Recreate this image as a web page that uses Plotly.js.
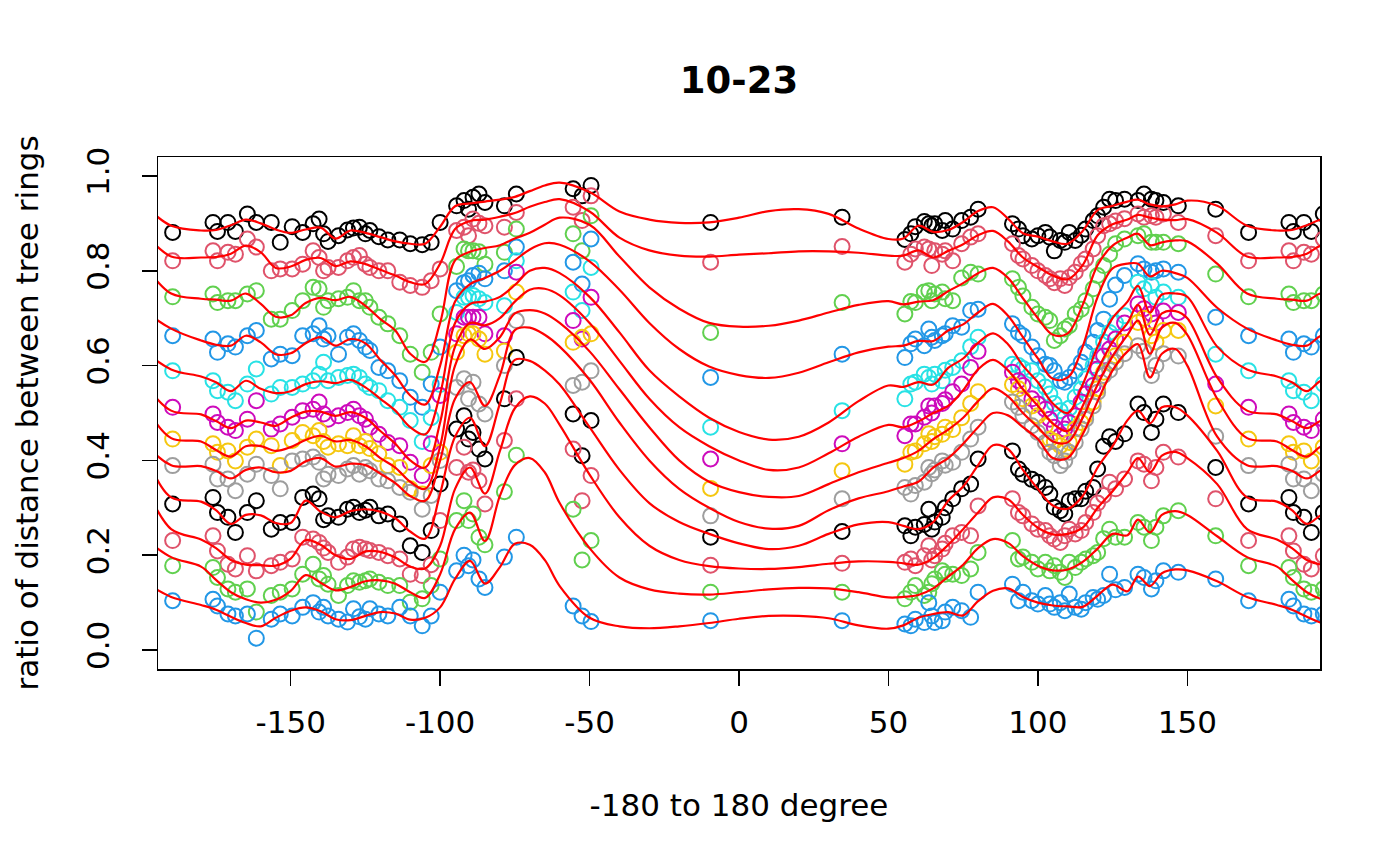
<!DOCTYPE html>
<html>
<head>
<meta charset="utf-8">
<script src="https://cdn.plot.ly/plotly-3.0.1.min.js"></script>
<style>html,body{margin:0;padding:0;background:#fff;}#chart{width:1400px;height:866px;}</style>
</head>
<body>
<div id="chart"></div>
<script>
// measurement angles (degrees), shared by all rings
const angles = [-176,-174.5,-171,-168.5,-164.5,-161.5,-156.5,-153.5,-149.5,-146,
 -142.5,-140.5,-139,-137.5,-134,-131,-129,-127,-125,-123.5,
 -120.5,-117.5,-113.5,-110,-106,-103,-100,-94.5,-92,-90.5,
 -89,-87,-85,-78.5,-74.5,-55.5,-52.5,-49.5,-9.5,34.5,
 55.5,57.5,59,62,63.5,64.5,65.5,68,69,71.5,
 74.5,77.5,80,91.5,93.5,95,98,100,102.5,104,
 105.5,107.5,109,110.5,112.5,114.5,116,118.5,120,122,
 124,126,129,133.5,135.5,138,139.5,142,147,159.5,170.5];

// observed ratios per ring
const ring1 = [0.902,0.883,0.902,0.883,0.920,0.902,0.902,0.860,0.893,0.881,
 0.899,0.909,0.878,0.862,0.874,0.886,0.890,0.892,0.878,0.885,
 0.872,0.865,0.865,0.857,0.855,0.860,0.902,0.937,0.948,0.930,
 0.955,0.962,0.944,0.937,0.962,0.973,0.958,0.980,0.902,0.913,
 0.866,0.878,0.893,0.904,0.899,0.895,0.899,0.885,0.906,0.888,
 0.906,0.913,0.930,0.899,0.888,0.874,0.867,0.874,0.881,0.871,
 0.842,0.864,0.860,0.881,0.864,0.875,0.888,0.906,0.916,0.934,
 0.951,0.948,0.951,0.948,0.962,0.951,0.948,0.944,0.937,0.930,0.881];
const ring2 = [0.842,0.821,0.839,0.835,0.867,0.850,0.800,0.804,0.804,0.814,
 0.842,0.828,0.800,0.807,0.807,0.821,0.828,0.832,0.814,0.807,
 0.800,0.800,0.776,0.769,0.765,0.779,0.804,0.885,0.892,0.874,
 0.909,0.900,0.895,0.892,0.923,0.934,0.906,0.958,0.818,0.851,
 0.818,0.835,0.846,0.850,0.846,0.811,0.842,0.835,0.842,0.821,
 0.857,0.871,0.878,0.857,0.832,0.825,0.811,0.800,0.790,0.783,
 0.775,0.783,0.769,0.786,0.797,0.815,0.825,0.846,0.874,0.895,
 0.899,0.905,0.910,0.920,0.913,0.916,0.913,0.920,0.902,0.874,0.821];
const ring3 = [0.751,0.733,0.737,0.737,0.751,0.758,0.698,0.698,0.716,0.737,
 0.765,0.762,0.723,0.737,0.741,0.744,0.758,0.737,0.737,0.723,
 0.702,0.688,0.663,0.624,0.586,0.628,0.709,0.809,0.846,0.842,
 0.842,0.840,0.814,0.839,0.888,0.878,0.842,0.916,0.670,0.733,
 0.709,0.735,0.733,0.755,0.758,0.737,0.751,0.755,0.741,0.737,
 0.785,0.797,0.793,0.783,0.765,0.747,0.723,0.709,0.702,0.695,
 0.653,0.663,0.677,0.684,0.709,0.719,0.737,0.762,0.790,0.811,
 0.835,0.857,0.867,0.874,0.878,0.860,0.860,0.860,0.857,0.793,0.745];
const ring4 = [0.656,0.628,0.646,0.639,0.663,0.674,0.614,0.624,0.621,0.663,
 0.667,0.684,0.656,0.663,0.624,0.660,0.667,0.653,0.639,0.632,
 0.596,0.589,0.568,0.533,0.512,0.561,0.639,0.758,0.775,0.779,
 0.790,0.795,0.783,0.800,0.850,0.818,0.772,0.867,0.575,0.624,
 0.617,0.646,0.656,0.642,0.677,0.660,0.653,0.663,0.667,0.684,
 0.681,0.716,0.719,0.688,0.670,0.663,0.639,0.621,0.603,0.600,
 0.589,0.568,0.565,0.575,0.589,0.607,0.628,0.649,0.674,0.698,
 0.740,0.770,0.790,0.815,0.804,0.797,0.800,0.804,0.797,0.702,0.663];
const ring5 = [0.568,0.547,0.544,0.526,0.561,0.593,0.540,0.554,0.554,0.561,
 0.568,0.582,0.607,0.568,0.575,0.579,0.582,0.575,0.561,0.554,
 0.547,0.526,0.512,0.484,0.440,0.490,0.560,0.712,0.744,0.744,
 0.748,0.741,0.733,0.726,0.821,0.755,0.716,0.807,0.470,0.505,
 0.530,0.561,0.565,0.582,0.575,0.561,0.582,0.568,0.590,0.596,
 0.610,0.640,0.660,0.603,0.600,0.594,0.589,0.568,0.555,0.540,
 0.520,0.505,0.490,0.510,0.533,0.550,0.572,0.600,0.621,0.650,
 0.670,0.690,0.705,0.776,0.762,0.769,0.744,0.755,0.744,0.624,0.589];
const ring6 = [0.498,0.480,0.470,0.463,0.487,0.526,0.466,0.477,0.491,0.505,
 0.508,0.523,0.498,0.487,0.494,0.501,0.508,0.494,0.487,0.470,
 0.455,0.438,0.431,0.396,0.368,0.435,0.537,0.667,0.702,0.702,
 0.702,0.702,0.667,0.663,0.797,0.695,0.656,0.744,0.403,0.435,
 0.452,0.477,0.477,0.491,0.515,0.500,0.515,0.520,0.528,0.545,
 0.561,0.596,0.630,0.586,0.568,0.558,0.530,0.519,0.508,0.487,
 0.470,0.452,0.466,0.480,0.494,0.523,0.540,0.558,0.593,0.620,
 0.635,0.656,0.690,0.730,0.720,0.709,0.690,0.715,0.712,0.561,0.512];
const ring7 = [0.435,0.417,0.420,0.399,0.428,0.445,0.431,0.389,0.442,0.459,
 0.452,0.463,0.440,0.428,0.435,0.431,0.452,0.431,0.440,0.425,
 0.414,0.389,0.385,0.340,0.329,0.389,0.417,0.628,0.663,0.667,
 0.667,0.656,0.624,0.631,0.755,0.649,0.660,0.667,0.341,0.378,
 0.392,0.417,0.420,0.435,0.456,0.440,0.450,0.455,0.470,0.465,
 0.490,0.520,0.545,0.560,0.551,0.530,0.515,0.494,0.473,0.445,
 0.440,0.431,0.424,0.438,0.466,0.480,0.494,0.523,0.551,0.586,
 0.605,0.621,0.649,0.691,0.700,0.663,0.650,0.674,0.674,0.515,0.445];
const ring8 = [0.392,0.361,0.361,0.336,0.371,0.392,0.368,0.340,0.399,0.403,
 0.407,0.396,0.361,0.371,0.368,0.382,0.389,0.371,0.385,0.378,
 0.361,0.357,0.343,0.333,0.297,0.326,0.400,0.554,0.572,0.530,
 0.565,0.519,0.498,0.600,0.695,0.558,0.565,0.589,0.283,0.319,
 0.343,0.329,0.347,0.354,0.385,0.372,0.380,0.399,0.390,0.396,
 0.417,0.445,0.470,0.523,0.512,0.494,0.473,0.459,0.438,0.417,
 0.410,0.389,0.399,0.417,0.438,0.466,0.487,0.515,0.544,0.579,
 0.590,0.607,0.625,0.642,0.630,0.579,0.600,0.625,0.620,0.451,0.389];
const ring9 = [0.322,0.290,0.280,0.248,0.290,0.315,0.255,0.269,0.269,0.322,
 0.329,0.319,0.275,0.283,0.280,0.297,0.301,0.290,0.295,0.301,
 0.283,0.287,0.266,0.220,0.206,0.252,0.350,0.466,0.494,0.445,
 0.459,0.424,0.403,0.530,0.617,0.498,0.410,0.484,0.238,0.250,
 0.262,0.241,0.259,0.265,0.297,0.255,0.270,0.280,0.300,0.319,
 0.340,0.350,0.403,0.420,0.382,0.371,0.360,0.354,0.343,0.329,
 0.301,0.294,0.287,0.315,0.319,0.319,0.335,0.343,0.382,0.430,
 0.450,0.440,0.456,0.519,0.501,0.459,0.487,0.519,0.501,0.385,0.308];
const ring10 = [0.241,0.209,0.181,0.171,0.199,0.167,0.178,0.185,0.192,0.238,
 0.234,0.227,0.215,0.206,0.185,0.196,0.213,0.217,0.213,0.210,
 0.206,0.199,0.192,0.160,0.157,0.180,0.273,0.385,0.428,0.375,
 0.380,0.357,0.308,0.442,0.530,0.424,0.315,0.368,0.179,0.183,
 0.185,0.192,0.178,0.199,0.220,0.190,0.199,0.213,0.225,0.241,
 0.248,0.241,0.304,0.319,0.290,0.283,0.266,0.255,0.252,0.241,
 0.234,0.227,0.241,0.255,0.245,0.252,0.269,0.290,0.310,0.326,
 0.354,0.340,0.361,0.399,0.392,0.357,0.385,0.417,0.407,0.319,0.231];
const ring11 = [0.174,0.153,0.129,0.122,0.129,0.080,0.115,0.122,0.129,0.160,
 0.181,0.150,0.157,0.139,0.115,0.136,0.146,0.143,0.146,0.150,
 0.143,0.136,0.136,0.101,0.108,0.136,0.192,0.273,0.315,0.273,
 0.287,0.238,0.222,0.334,0.411,0.297,0.190,0.231,0.122,0.122,
 0.108,0.122,0.136,0.115,0.122,0.140,0.150,0.167,0.160,0.160,
 0.157,0.171,0.206,0.231,0.192,0.196,0.185,0.171,0.185,0.167,
 0.178,0.164,0.153,0.185,0.174,0.185,0.192,0.199,0.206,0.235,
 0.255,0.238,0.238,0.269,0.259,0.231,0.259,0.283,0.294,0.241,0.178];
const ring12 = [0.107,0.093,0.076,0.072,0.076,0.025,0.065,0.076,0.072,0.090,
 0.100,0.080,0.090,0.072,0.065,0.059,0.087,0.070,0.065,0.087,
 0.076,0.072,0.090,0.072,0.051,0.072,0.122,0.167,0.200,0.178,
 0.190,0.150,0.132,0.196,0.238,0.093,0.072,0.060,0.062,0.062,
 0.055,0.051,0.065,0.058,0.100,0.072,0.058,0.062,0.080,0.090,
 0.083,0.069,0.122,0.139,0.104,0.122,0.104,0.097,0.115,0.097,
 0.090,0.100,0.083,0.118,0.090,0.086,0.100,0.111,0.107,0.115,
 0.160,0.127,0.132,0.160,0.153,0.129,0.146,0.167,0.164,0.150,0.104];

// fitted periodic curves, sampled at these angles
const fitAngles = [-180,-175,-170,-165,-160,-155,-150,-145,-140,-135,
 -130,-125,-120,-115,-110,-105,-100,-95,-90,-85,
 -80,-75,-70,-65,-60,-50,-40,-30,-20,-10,
 0,10,20,30,40,50,55,60,65,70,
 75,80,85,90,95,100,105,110,115,120,
 125,130,133.5,137.5,141.5,146,150,160,170];
const fit1 = [0.885,0.886,0.896,0.908,0.900,0.887,0.880,0.887,0.891,0.868,
 0.885,0.880,0.871,0.862,0.857,0.857,0.893,0.936,0.942,0.946,
 0.950,0.956,0.968,0.980,0.986,0.966,0.925,0.908,0.901,0.902,
 0.912,0.926,0.930,0.920,0.889,0.867,0.868,0.895,0.882,0.886,
 0.903,0.926,0.934,0.910,0.879,0.872,0.862,0.857,0.884,0.928,
 0.937,0.946,0.950,0.940,0.936,0.940,0.948,0.937,0.895];
const fit2 = [0.828,0.829,0.836,0.853,0.839,0.806,0.809,0.823,0.827,0.810,
 0.820,0.814,0.802,0.790,0.776,0.772,0.815,0.888,0.905,0.908,
 0.914,0.922,0.935,0.945,0.951,0.925,0.870,0.843,0.832,0.830,
 0.834,0.837,0.841,0.841,0.838,0.832,0.832,0.843,0.828,0.842,
 0.856,0.875,0.884,0.862,0.828,0.808,0.790,0.782,0.812,0.875,
 0.898,0.908,0.918,0.912,0.908,0.907,0.909,0.880,0.830];
const fit3 = [0.741,0.739,0.737,0.752,0.730,0.703,0.706,0.732,0.743,0.738,
 0.745,0.726,0.698,0.674,0.625,0.608,0.690,0.822,0.840,0.848,
 0.854,0.868,0.880,0.897,0.912,0.897,0.830,0.765,0.720,0.690,
 0.682,0.684,0.695,0.712,0.728,0.736,0.729,0.735,0.738,0.757,
 0.774,0.795,0.806,0.785,0.742,0.700,0.665,0.668,0.728,0.812,
 0.853,0.870,0.878,0.854,0.860,0.864,0.862,0.815,0.752];
const fit4 = [0.653,0.644,0.642,0.663,0.649,0.624,0.626,0.647,0.660,0.642,
 0.656,0.647,0.612,0.579,0.537,0.518,0.600,0.735,0.772,0.785,
 0.800,0.822,0.845,0.858,0.855,0.820,0.760,0.690,0.635,0.598,
 0.580,0.574,0.585,0.607,0.628,0.640,0.642,0.652,0.652,0.674,
 0.687,0.712,0.730,0.705,0.660,0.615,0.572,0.575,0.640,0.745,
 0.805,0.815,0.815,0.788,0.800,0.795,0.785,0.722,0.678];
const fit5 = [0.577,0.565,0.546,0.568,0.551,0.542,0.546,0.561,0.567,0.563,
 0.570,0.554,0.530,0.505,0.470,0.455,0.540,0.690,0.730,0.735,
 0.745,0.770,0.800,0.806,0.795,0.745,0.670,0.590,0.535,0.490,
 0.460,0.444,0.450,0.480,0.525,0.558,0.555,0.565,0.560,0.595,
 0.615,0.648,0.668,0.645,0.600,0.565,0.520,0.500,0.560,0.640,
 0.700,0.735,0.768,0.712,0.750,0.752,0.745,0.640,0.592];
const fit6 = [0.497,0.483,0.468,0.484,0.480,0.473,0.490,0.503,0.503,0.494,
 0.502,0.490,0.462,0.435,0.400,0.385,0.480,0.640,0.690,0.685,
 0.700,0.735,0.760,0.762,0.748,0.690,0.610,0.530,0.470,0.430,
 0.400,0.380,0.385,0.415,0.450,0.475,0.470,0.482,0.500,0.515,
 0.548,0.592,0.612,0.590,0.550,0.515,0.478,0.462,0.515,0.590,
 0.650,0.690,0.728,0.665,0.710,0.715,0.700,0.575,0.505];
const fit7 = [0.440,0.422,0.408,0.430,0.430,0.420,0.428,0.443,0.452,0.440,
 0.443,0.430,0.405,0.385,0.355,0.340,0.430,0.600,0.655,0.635,
 0.660,0.710,0.717,0.710,0.690,0.630,0.550,0.470,0.400,0.355,
 0.333,0.323,0.325,0.350,0.375,0.395,0.405,0.420,0.445,0.465,
 0.490,0.525,0.552,0.535,0.500,0.470,0.440,0.438,0.490,0.560,
 0.620,0.665,0.695,0.625,0.680,0.690,0.665,0.530,0.447];
const fit8 = [0.388,0.378,0.362,0.380,0.385,0.375,0.378,0.398,0.405,0.387,
 0.393,0.390,0.372,0.352,0.325,0.315,0.400,0.530,0.565,0.515,
 0.580,0.675,0.680,0.665,0.640,0.570,0.480,0.400,0.340,0.300,
 0.270,0.256,0.262,0.295,0.320,0.335,0.345,0.355,0.385,0.405,
 0.435,0.470,0.500,0.495,0.470,0.445,0.405,0.405,0.455,0.525,
 0.590,0.630,0.645,0.575,0.625,0.635,0.600,0.450,0.390];
const fit9 = [0.313,0.295,0.266,0.285,0.284,0.268,0.268,0.315,0.292,0.280,
 0.293,0.297,0.292,0.278,0.250,0.235,0.330,0.450,0.490,0.430,
 0.520,0.612,0.610,0.590,0.560,0.470,0.380,0.310,0.270,0.245,
 0.225,0.213,0.220,0.245,0.265,0.270,0.262,0.255,0.270,0.315,
 0.345,0.390,0.432,0.424,0.380,0.340,0.305,0.298,0.325,0.385,
 0.430,0.485,0.505,0.478,0.512,0.512,0.495,0.420,0.322];
const fit10 = [0.233,0.215,0.190,0.180,0.179,0.178,0.193,0.232,0.222,0.200,
 0.192,0.208,0.207,0.195,0.176,0.172,0.220,0.340,0.385,0.330,
 0.420,0.510,0.535,0.520,0.475,0.370,0.280,0.220,0.190,0.177,
 0.172,0.171,0.175,0.182,0.187,0.186,0.183,0.180,0.194,0.222,
 0.255,0.290,0.322,0.318,0.285,0.258,0.244,0.245,0.258,0.300,
 0.335,0.375,0.405,0.375,0.410,0.418,0.405,0.350,0.255];
const fit11 = [0.176,0.148,0.122,0.107,0.100,0.106,0.125,0.158,0.142,0.126,
 0.133,0.145,0.147,0.140,0.122,0.110,0.160,0.255,0.290,0.230,
 0.325,0.390,0.405,0.375,0.310,0.215,0.153,0.128,0.119,0.117,
 0.122,0.128,0.131,0.130,0.122,0.111,0.112,0.116,0.130,0.155,
 0.180,0.215,0.234,0.226,0.198,0.178,0.168,0.170,0.186,0.214,
 0.245,0.242,0.275,0.248,0.285,0.293,0.285,0.240,0.196];
const fit12 = [0.095,0.085,0.070,0.057,0.050,0.068,0.083,0.090,0.082,0.065,
 0.063,0.072,0.080,0.077,0.064,0.068,0.090,0.150,0.188,0.140,
 0.175,0.224,0.222,0.190,0.135,0.068,0.050,0.046,0.050,0.057,
 0.066,0.072,0.072,0.067,0.052,0.045,0.052,0.068,0.076,0.080,
 0.073,0.103,0.125,0.130,0.112,0.100,0.094,0.092,0.091,0.115,
 0.138,0.124,0.155,0.135,0.162,0.170,0.168,0.145,0.112];

const xTicks = [-150,-100,-50,0,50,100,150];
const xTickText = ['-150','-100','-50','0','50','100','150'];
const yTicks = [0,0.2,0.4,0.6,0.8,1.0];
const yTickText = ['0.0','0.2','0.4','0.6','0.8','1.0'];

const rings = [ring1,ring2,ring3,ring4,ring5,ring6,ring7,ring8,ring9,ring10,ring11,ring12];
const fits = [fit1,fit2,fit3,fit4,fit5,fit6,fit7,fit8,fit9,fit10,fit11,fit12];
const palette = ['#000000','#DF536B','#61D04F','#2297E6','#28E2E5','#CD0BBC','#F5C710','#9E9E9E'];

// angles are periodic: repeat data one turn either side, the axis range clips the rest
function periodic(xs, ys, lim) {
  const ox = [], oy = [];
  for (const k of [-1, 0, 1]) {
    xs.forEach((x, i) => {
      const xx = x + 360 * k;
      if (xx >= -lim && xx <= lim) { ox.push(xx); oy.push(ys[i]); }
    });
  }
  return [ox, oy];
}

const traces = [];
rings.forEach((r, i) => {
  const [x, y] = periodic(angles, r, 205);
  traces.push({
    type: 'scatter', mode: 'markers', x: x, y: y, hoverinfo: 'skip',
    marker: {symbol: 'circle-open', size: 15, color: palette[i % 8], line: {width: 2, color: palette[i % 8]}}
  });
});
fits.forEach((f) => {
  const [x, y] = periodic(fitAngles, f, 235);
  traces.push({
    type: 'scatter', mode: 'lines', x: x, y: y, hoverinfo: 'skip',
    line: {color: '#FF0000', width: 2.2, shape: 'spline', smoothing: 1}
  });
});

const font = 'DejaVu Sans, Arial, sans-serif';
const layout = {
  width: 1400, height: 866,
  margin: {l: 158, r: 80, t: 157, b: 197},
  paper_bgcolor: '#ffffff', plot_bgcolor: '#ffffff',
  showlegend: false,
  font: {family: font, size: 31, color: '#000000'},
  title: {text: '<b>10-23</b>', font: {family: font, size: 37, color: '#000000'},
          x: 0.5, xref: 'paper', xanchor: 'center', y: 1 - 80/866, yref: 'container', yanchor: 'middle'},
  xaxis: {
    range: [-194.4, 194.4], tickmode: 'array', tickvals: xTicks, ticktext: xTickText,
    ticks: 'outside', ticklen: 15, tickwidth: 1.5, tickcolor: '#000', ticklabelstandoff: 10,
    showline: true, mirror: true, linewidth: 1.5, linecolor: '#000',
    showgrid: false, zeroline: false, tickfont: {size: 31},
    title: {text: '-180 to 180 degree', standoff: 55, font: {size: 31}}
  },
  yaxis: {
    range: [-0.04, 1.04], tickmode: 'array', tickvals: yTicks, ticktext: yTickText, tickangle: -90,
    ticks: 'outside', ticklen: 15, tickwidth: 1.5, tickcolor: '#000', ticklabelstandoff: 20,
    showline: true, mirror: true, linewidth: 1.5, linecolor: '#000',
    showgrid: false, zeroline: false, tickfont: {size: 31},
    title: {text: 'ratio of distance between tree rings', standoff: 32, font: {size: 31}}
  }
};
Plotly.newPlot('chart', traces, layout, {staticPlot: true, displayModeBar: false});
</script>
</body>
</html>
